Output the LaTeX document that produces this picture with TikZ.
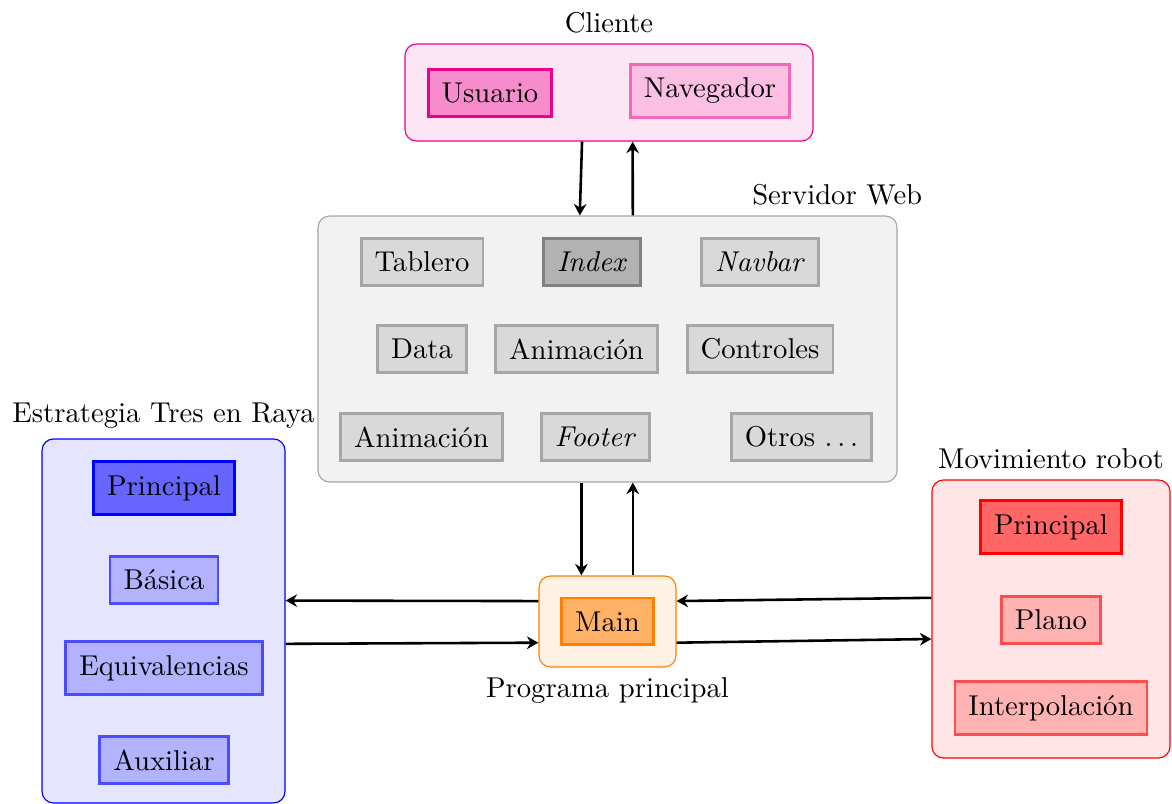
\documentclass[tikz,border=0pt]{standalone}
\usepackage{tikz}
\usetikzlibrary{arrows.meta,positioning,calc}

\begin{document}
\begin{tikzpicture}
\tikzstyle{marco} = [rectangle, draw, rounded corners, inner sep=0pt]
\tikzstyle{caja} = [rectangle, draw, line width=1pt, inner sep=4.7pt]
\tikzstyle{flecha} = [draw, line width=0.9pt, -{Stealth[length=4pt, width=4.4pt, inset=1.3pt]}]

\useasboundingbox (0,0) rectangle (14.363,-9.853);

% Cliente
\node [marco, draw=magenta, fill=magenta!10, minimum width=5cm, minimum height=1.189cm] (cliente) at (7.463,-1.134) {};
\node [above=0pt of cliente] {Cliente};
\node [caja, draw=magenta, fill=magenta!45] (usuario) at (6.005,-1.140) {Usuario};
\node [caja, draw=magenta!60, fill=magenta!25] (navegador) at (8.701,-1.115) {Navegador};

% Servidor Web
\node [marco, draw=gray!70, fill=gray!10, minimum width=7.096cm, minimum height=3.26cm] (servidor) at (7.445,-4.277) {};
\node [anchor=south] at ([xshift=-0.74cm]servidor.north east) {Servidor Web};
\node [caja, draw=gray!70, fill=gray!30] (tablero) at (5.172,-3.211) {Tablero};
\node [caja, draw=gray, fill=gray!60] (index) at (7.255,-3.211) {\textit{Index}};
\node [caja, draw=gray!70, fill=gray!30] (navbar) at (9.314,-3.211) {\textit{Navbar}};
\node [caja, draw=gray!70, fill=gray!30] (data) at (5.172,-4.277) {Data};
\node [caja, draw=gray!70, fill=gray!30] (animacion1) at (7.065,-4.277) {Animación};
\node [caja, draw=gray!70, fill=gray!30] (controles) at (9.314,-4.277) {Controles};
\node [caja, draw=gray!70, fill=gray!30] (animacion2) at (5.165,-5.355) {Animación};
\node [caja, draw=gray!70, fill=gray!30] (footer) at (7.298,-5.355) {\textit{Footer}};
\node [caja, draw=gray!70, fill=gray!30] (otros) at (9.822,-5.355) {Otros $\ldots$};

% Estrategia Tres en Raya
\node [marco, draw=blue, fill=blue!10, minimum width=2.978cm, minimum height=4.461cm] (estrategia) at (2.004,-7.61) {};
\node [above=0pt of estrategia] {Estrategia Tres en Raya};
\node [caja, draw=blue, fill=blue!60] (principalA) at (2.01,-5.98) {Principal};
\node [caja, draw=blue!70, fill=blue!30] (basica) at (2.01,-7.108) {Básica};
\node [caja, draw=blue!70, fill=blue!30] (equivalencias) at (2.01,-8.186) {Equivalencias};
\node [caja, draw=blue!70, fill=blue!30] (auxiliar) at (2.01,-9.314) {Auxiliar};

% Programa principal
\node [marco, draw=orange, fill=orange!10, minimum width=1.679cm, minimum height=1.115cm] (programa) at (7.445,-7.616) {};
\node [below=0pt of programa] {Programa principal};
\node [caja, draw=orange, fill=orange!60] (main) at (7.445,-7.616) {Main};

% Movimiento robot
\node [marco, draw=red, fill=red!10, minimum width=2.917cm, minimum height=3.407cm] (movimiento) at (12.88,-7.586) {};
\node [above=0pt of movimiento] {Movimiento robot};
\node [caja, draw=red, fill=red!60] (principalB) at (12.88,-6.458) {Principal};
\node [caja, draw=red!70, fill=red!30] (plano) at (12.88,-7.598) {Plano};
\node [caja, draw=red!70, fill=red!30] (interpolacion) at (12.88,-8.676) {Interpolación};

% Conexiones
\draw [flecha] ([xshift=-0.33cm]cliente.south) -- ([xshift=-0.34cm]servidor.north);
\draw [flecha] ([xshift=0.31cm]servidor.north) -- ([xshift=0.29cm]cliente.south);
\draw [flecha] ([xshift=-0.32cm]servidor.south) -- ([xshift=-0.32cm]programa.north);
\draw [flecha] ([xshift=0.31cm]programa.north) -- ([xshift=0.31cm]servidor.south);
\draw [flecha] ([yshift=0.25cm]programa.west) -- ([yshift=0.25cm]estrategia.east);
\draw [flecha] ([yshift=-0.28cm]estrategia.east) -- ([yshift=-0.26cm]programa.west);
\draw [flecha] ([yshift=0.26cm]movimiento.west) -- ([yshift=0.25cm]programa.east);
\draw [flecha] ([yshift=-0.26cm]programa.east) -- ([yshift=-0.245cm]movimiento.west);

\end{tikzpicture}
\end{document}
